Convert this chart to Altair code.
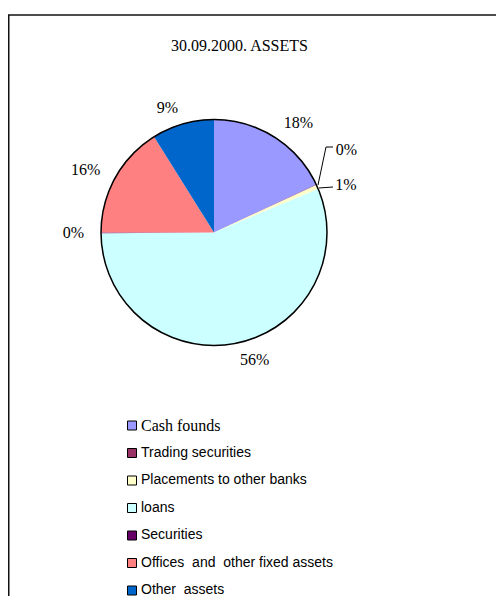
import altair as alt
import pandas as pd

categories = ["Cash founds", "Trading securities", "Placements to other banks",
              "loans", "Securities", "Offices\u00a0 and\u00a0 other fixed assets", "Other\u00a0 assets"]
values = [18.0, 0.1, 0.6, 56.2, 0.1, 16.1, 8.9]
colors = ["#9999FF", "#993366", "#FFFFCC", "#CCFFFF", "#660066", "#FF8080", "#0066CC"]
title_text = "30.09.2000. ASSETS"

df = pd.DataFrame({"cat": categories, "value": values})

W, H = 488, 588
CX, CY, R = 206, 224.5, 113
SERIF = "Liberation Serif"
SANS = "Liberation Sans"

color = alt.Color("cat:N", scale=alt.Scale(domain=categories, range=colors), legend=None)

base = alt.Chart(df).transform_window(
    i="row_number()"
).transform_joinaggregate(
    total="sum(value)"
).transform_calculate(
    lbl="round(datum.value / datum.total * 100) + '%'"
)

theta = alt.Theta("value:Q", stack=True)
order = alt.Order("i:Q")
cx = alt.value(CX)
cy = alt.value(CY)

pie = base.mark_arc(radius=R).encode(theta=theta, order=order, color=color, x=cx, y=cy)

one = alt.Data(values=[{"a": 1}])
outline = alt.Chart(one).mark_arc(radius=R, filled=False, stroke="black", strokeWidth=1.5).encode(
    x=cx, y=cy, theta=alt.value(0), theta2=alt.value(6.2832)
)


def label_layer(idx, align, radius, dx=0, dy=0):
    test = " || ".join([f"datum.i == {k + 1}" for k in idx])
    return base.mark_text(font=SERIF, fontSize=16, align=align, baseline="middle",
                          radius=radius, dx=dx, dy=dy, color="black").encode(
        theta=theta, order=order, x=cx, y=cy,
        text=alt.condition(test, alt.Text("lbl:N"), alt.value(""))
    )


lab_right = label_layer([0, 3], "left", 130)
lab_left = label_layer([4, 5, 6], "right", 130)
lab_trading = label_layer([1], "left", 147, dx=-11.5, dy=-20.6)
lab_place = label_layer([2], "left", 130, dx=2.3, dy=5.3)

leader_style = dict(color="black", strokeWidth=1)
lead1 = alt.Chart(one).mark_rule(**leader_style).encode(
    x=alt.value(310), y=alt.value(177), x2=alt.value(318), y2=alt.value(139))
lead2 = alt.Chart(one).mark_rule(**leader_style).encode(
    x=alt.value(318), y=alt.value(139), x2=alt.value(325), y2=alt.value(139))
lead3 = alt.Chart(one).mark_rule(**leader_style).encode(
    x=alt.value(311), y=alt.value(180), x2=alt.value(325), y2=alt.value(179))

frame_style = dict(color="#111111", strokeWidth=1.5)
frame_left = alt.Chart(one).mark_rule(**frame_style).encode(
    x=alt.value(0.75), y=alt.value(7), y2=alt.value(H))
frame_top = alt.Chart(one).mark_rule(**frame_style).encode(
    x=alt.value(0), x2=alt.value(W), y=alt.value(7))

title = alt.Chart(alt.Data(values=[{"t": title_text}])).mark_text(
    font=SERIF, fontSize=16, align="center", baseline="alphabetic", color="black"
).encode(x=alt.value(231.5), y=alt.value(42.7), text="t:N")

ly = alt.Y("cat:N", sort=categories, axis=None,
           scale=alt.Scale(type="point", range=[417.5, 582.5], padding=0))
leg_sq = alt.Chart(df).mark_square(size=81, filled=True, opacity=1, stroke="black", strokeWidth=1).encode(
    x=alt.value(124), y=ly, color=color)
leg_cash = alt.Chart(df).transform_filter(f"datum.cat == '{categories[0]}'").mark_text(
    font=SERIF, fontSize=16, align="left", baseline="alphabetic", dy=5, color="black"
).encode(x=alt.value(133), y=ly, text="cat:N")
leg_rest = alt.Chart(df).transform_filter(f"datum.cat != '{categories[0]}'").mark_text(
    font=SANS, fontSize=14, align="left", baseline="alphabetic", dy=3.5, color="black"
).encode(x=alt.value(133), y=ly, text="cat:N")

chart = alt.layer(
    frame_left, frame_top, title, pie, outline,
    lab_right, lab_left, lab_trading, lab_place, lead1, lead2, lead3,
    leg_sq, leg_cash, leg_rest
).properties(
    width=W, height=H, autosize="none", padding=0, background="white"
).configure_view(strokeWidth=0)

chart.save("out.html", embed_options={"renderer": "svg", "actions": False})
